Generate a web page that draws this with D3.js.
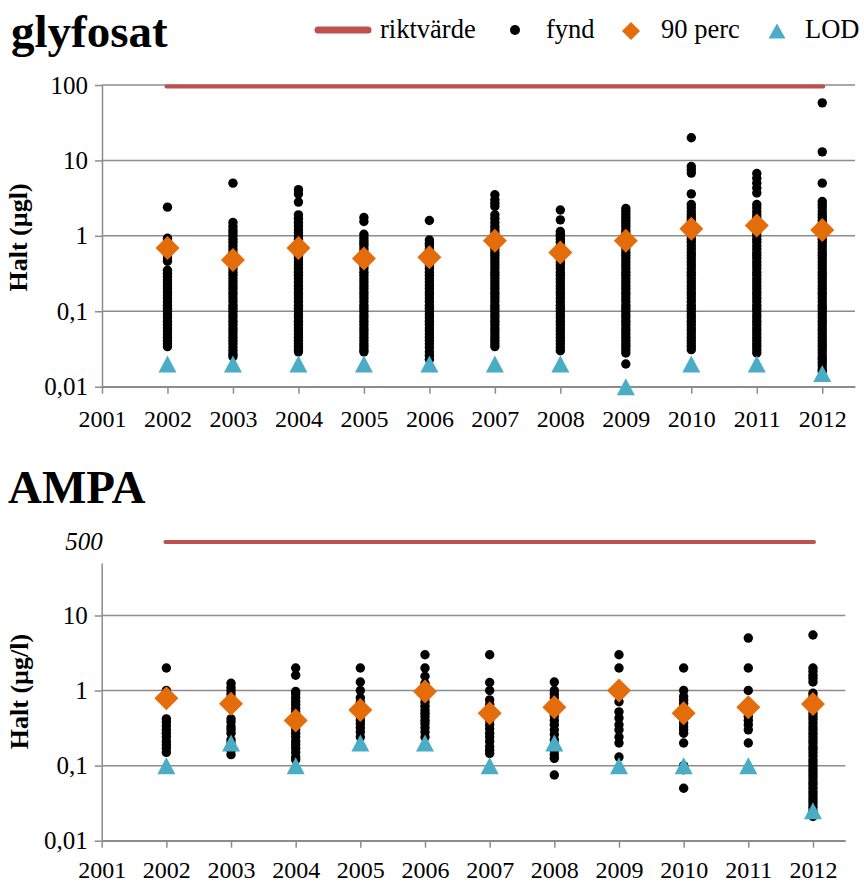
<!DOCTYPE html>
<html><head><meta charset="utf-8">
<script src="https://cdn.jsdelivr.net/npm/d3@7"></script>
<style>body{margin:0;background:#fff}</style>
</head><body><svg id="c" width="864" height="884" font-family="'Liberation Serif'"></svg>
<script>
const years = [2002,2003,2004,2005,2006,2007,2008,2009,2010,2011,2012];
const axisYears = [2001,2002,2003,2004,2005,2006,2007,2008,2009,2010,2011,2012];
const glyTicks = [0.01,0.1,1,10,100];
const ampaTicks = [0.01,0.1,1,10];
const legendLabels = ["riktvärde","fynd","90 perc","LOD"];

// glyfosat – fynd per year
const glyFynd = [
 [2.4,0.93,0.85,0.78,0.7,0.63,0.56,0.5,0.46,0.35,0.32,0.29,0.26,0.24,0.22,0.2,0.18,0.165,0.15,0.135,0.12,0.11,0.1,0.09,0.082,0.074,0.067,0.06,0.055,0.05,0.045,0.041,0.037,0.034],
 [5.0,1.5,1.33,1.2,1.1,1.0,0.9,0.82,0.74,0.67,0.6,0.55,0.5,0.45,0.41,0.37,0.33,0.3,0.27,0.245,0.22,0.2,0.18,0.165,0.15,0.135,0.12,0.11,0.1,0.09,0.082,0.074,0.067,0.06,0.055,0.05,0.045,0.041,0.037,0.033,0.03,0.027,0.025],
 [4.1,3.6,2.8,1.9,1.7,1.5,1.35,1.2,1.1,1.0,0.9,0.82,0.74,0.67,0.6,0.55,0.5,0.45,0.41,0.37,0.33,0.3,0.27,0.245,0.22,0.2,0.18,0.165,0.15,0.135,0.12,0.11,0.1,0.09,0.082,0.074,0.067,0.06,0.055,0.05,0.045,0.041,0.037,0.034,0.031,0.029],
 [1.75,1.55,1.05,0.95,0.87,0.8,0.74,0.67,0.6,0.55,0.5,0.45,0.41,0.37,0.33,0.3,0.27,0.245,0.22,0.2,0.18,0.165,0.15,0.135,0.12,0.11,0.1,0.09,0.082,0.074,0.067,0.06,0.055,0.05,0.045,0.041,0.037,0.034,0.031,0.029],
 [1.6,0.88,0.8,0.74,0.67,0.6,0.55,0.5,0.45,0.41,0.37,0.33,0.3,0.27,0.245,0.22,0.2,0.18,0.165,0.15,0.135,0.12,0.11,0.1,0.09,0.082,0.074,0.067,0.06,0.055,0.05,0.045,0.041,0.037,0.033,0.029,0.026,0.023],
 [3.5,3.0,2.7,2.45,1.9,1.7,1.5,1.33,1.2,1.1,1.0,0.9,0.82,0.74,0.67,0.6,0.55,0.5,0.45,0.41,0.37,0.33,0.3,0.27,0.245,0.22,0.2,0.18,0.165,0.15,0.135,0.12,0.11,0.1,0.09,0.082,0.074,0.067,0.06,0.055,0.05,0.045,0.041,0.037,0.034],
 [2.2,1.63,1.14,1.05,0.98,0.9,0.82,0.74,0.67,0.6,0.55,0.5,0.45,0.41,0.37,0.33,0.3,0.27,0.245,0.22,0.2,0.18,0.165,0.15,0.135,0.12,0.11,0.1,0.09,0.082,0.074,0.067,0.06,0.055,0.05,0.045,0.041,0.037,0.033,0.03],
 [2.3,2.1,1.9,1.75,1.6,1.45,1.33,1.2,1.1,1.0,0.9,0.82,0.74,0.67,0.6,0.55,0.5,0.45,0.41,0.37,0.33,0.3,0.27,0.245,0.22,0.2,0.18,0.165,0.15,0.135,0.12,0.11,0.1,0.09,0.082,0.074,0.067,0.06,0.055,0.05,0.045,0.041,0.037,0.034,0.031,0.028,0.02],
 [20,8.3,7.5,6.8,3.6,2.6,2.35,2.1,1.9,1.75,1.6,1.45,1.33,1.2,1.1,1.0,0.9,0.82,0.74,0.67,0.6,0.55,0.5,0.45,0.41,0.37,0.33,0.3,0.27,0.245,0.22,0.2,0.18,0.165,0.15,0.135,0.12,0.11,0.1,0.09,0.082,0.074,0.067,0.06,0.055,0.05,0.045,0.041,0.037,0.034,0.031],
 [6.7,5.8,5.0,4.3,3.7,2.6,2.35,2.1,1.9,1.75,1.6,1.45,1.33,1.2,1.1,1.0,0.9,0.82,0.74,0.67,0.6,0.55,0.5,0.45,0.41,0.37,0.33,0.3,0.27,0.245,0.22,0.2,0.18,0.165,0.15,0.135,0.12,0.11,0.1,0.09,0.082,0.074,0.067,0.06,0.055,0.05,0.045,0.041,0.037,0.034,0.031,0.028],
 [58,13,5.0,2.85,2.6,2.35,2.1,1.9,1.75,1.6,1.45,1.33,1.2,1.1,1.0,0.9,0.82,0.74,0.67,0.6,0.55,0.5,0.45,0.41,0.37,0.33,0.3,0.27,0.245,0.22,0.2,0.18,0.165,0.15,0.135,0.12,0.11,0.1,0.09,0.082,0.074,0.067,0.06,0.055,0.05,0.045,0.041,0.037,0.034,0.031,0.028,0.025,0.023,0.021,0.019,0.017,0.016]
];
const glyP90 = [0.69,0.48,0.69,0.50,0.52,0.86,0.60,0.86,1.24,1.37,1.2];
const glyLOD = [0.02,0.02,0.02,0.02,0.02,0.02,0.02,0.01,0.02,0.02,0.015];
const glyRikt = 100;

// AMPA – fynd per year
const ampaFynd = [
 [2.0,1.0,0.9,0.42,0.38,0.34,0.3,0.27,0.24,0.21,0.19,0.17,0.15],
 [1.25,1.1,1.0,0.9,0.8,0.42,0.38,0.33,0.3,0.27,0.22,0.2,0.18,0.16,0.14],
 [2.0,1.6,0.97,0.9,0.8,0.72,0.65,0.58,0.52,0.46,0.42,0.38,0.34,0.3,0.27,0.24,0.21,0.19,0.17,0.15,0.13,0.12],
 [2.0,1.3,1.0,0.8,0.7,0.62,0.55,0.5,0.45,0.4,0.36,0.32,0.28,0.24],
 [3.0,2.0,1.55,1.25,1.1,1.0,0.9,0.8,0.7,0.62,0.55,0.5,0.45,0.4,0.36,0.32,0.28,0.24],
 [3.0,1.28,1.0,0.75,0.65,0.57,0.5,0.44,0.4,0.35,0.31,0.27,0.24,0.21,0.18,0.16,0.145],
 [1.3,1.0,0.9,0.8,0.7,0.6,0.52,0.46,0.4,0.35,0.3,0.26,0.22,0.19,0.16,0.14,0.125,0.075],
 [3.0,2.0,1.0,0.71,0.52,0.43,0.35,0.3,0.24,0.2,0.13],
 [2.0,1.0,0.83,0.75,0.67,0.6,0.53,0.47,0.42,0.37,0.33,0.3,0.27,0.2,0.1,0.088,0.05],
 [5.0,2.0,1.0,0.6,0.52,0.45,0.4,0.35,0.3,0.2],
 [5.5,2.0,1.8,1.6,1.45,1.3,0.92,0.83,0.75,0.68,0.62,0.56,0.5,0.45,0.41,0.37,0.33,0.3,0.27,0.245,0.22,0.2,0.18,0.165,0.15,0.135,0.12,0.11,0.1,0.09,0.082,0.074,0.067,0.06,0.055,0.05,0.045,0.041,0.037,0.034,0.031,0.028,0.025,0.023,0.021]
];
const ampaP90 = [0.79,0.665,0.40,0.55,0.97,0.50,0.60,1.0,0.5,0.6,0.66];
const ampaLOD = [0.1,0.2,0.1,0.2,0.2,0.1,0.2,0.1,0.1,0.1,0.025];
const ampaRikt = 500;

const FONT = "'Liberation Serif'";
const RED = '#c0504d', ORANGE = '#e46c0a', BLUE = '#4bacc6', GRID = '#8c8c8c';
const svg = d3.select('#c');
const fmt = d => String(d).replace('.', ',');
const diamond = r => `M0,${-r}L${r},0L0,${r}L${-r},0Z`;
const tri = (w,h) => `M0,${-h/2}L${w/2},${h/2}L${-w/2},${h/2}Z`;

function panel(o) {
  const x = d3.scaleLinear().domain([2001, 2012.5]).range(o.xr);
  const y = d3.scaleLog().domain(o.yd).range(o.yr);
  const g = svg.append('g');

  g.append('text').attr('x', o.titleX).attr('y', o.titleY).attr('font-family', FONT)
    .attr('font-size', 47).attr('font-weight', 'bold').text(o.title);

  g.selectAll('line.grid').data(o.ticks).join('line').attr('class','grid')
    .attr('x1', o.xr[0]).attr('x2', o.xr[1])
    .attr('y1', d => y(d)).attr('y2', d => y(d))
    .attr('stroke', GRID).attr('stroke-width', 1.5);

  const ya = g.append('g').attr('transform', `translate(${o.xr[0]},0)`)
    .call(d3.axisLeft(y).tickValues(o.ticks).tickFormat(fmt).tickSize(7).tickSizeOuter(0).tickPadding(7));
  const xa = g.append('g').attr('transform', `translate(0,${o.yr[0]})`)
    .call(d3.axisBottom(x).tickValues(axisYears).tickFormat(d3.format('d')).tickSize(7).tickSizeOuter(0).tickPadding(o.xPad));
  [ya, xa].forEach(a => {
    a.attr('font-family', FONT).attr('font-size', 24);
    a.selectAll('path,line').attr('stroke', GRID).attr('stroke-width', 1.5);
    a.selectAll('text').attr('font-family', FONT).attr('font-size', 24).attr('fill', '#000');
  });
  ya.selectAll('text').attr('font-size', 25);

  g.append('text').attr('transform', `translate(${o.ytX},${o.ytY}) rotate(-90)`).attr('font-family', FONT)
    .attr('text-anchor', 'middle').attr('font-size', 26).attr('font-weight', 'bold').text(o.ytitle);

  // riktvärde
  const ry = o.riktY(y);
  g.append('line').attr('x1', x(years[0]) - 1).attr('x2', x(years[years.length-1]) + 1)
    .attr('y1', ry).attr('y2', ry).attr('stroke', RED).attr('stroke-width', 4).attr('stroke-linecap', 'round');
  if (o.riktLabel) {
    g.append('text').attr('x', o.xr[0] + 1).attr('y', ry + 8).attr('text-anchor', 'end').attr('font-family', FONT)
      .attr('font-size', 25).attr('font-style', 'italic').text(fmt(o.rikt));
  }

  const pts = years.flatMap((yr, i) => o.fynd[i].map(v => ({yr, v})));
  g.selectAll('circle.f').data(pts).join('circle').attr('class','f')
    .attr('cx', d => x(d.yr)).attr('cy', d => y(d.v)).attr('r', 4.7).attr('fill', '#000');
  g.selectAll('path.p90').data(years.map((yr,i)=>({yr, v:o.p90[i]}))).join('path').attr('class','p90')
    .attr('d', diamond(12)).attr('transform', d => `translate(${x(d.yr)},${y(d.v)})`).attr('fill', ORANGE);
  g.selectAll('path.lod').data(years.map((yr,i)=>({yr, v:o.lod[i]}))).join('path').attr('class','lod')
    .attr('d', tri(18,17)).attr('transform', d => `translate(${x(d.yr)},${y(d.v)})`).attr('fill', BLUE);
}

panel({title:'glyfosat', titleX:11, titleY:47, xr:[102,855], yd:[0.01,100], yr:[386.7,85], ticks:glyTicks, xPad:16,
  ytitle:'Halt (µgl)', ytX:27, ytY:237.5, fynd:glyFynd, p90:glyP90, lod:glyLOD, rikt:glyRikt,
  riktY: y => y(glyRikt) + 1.5, riktLabel:false});
panel({title:'AMPA', titleX:8, titleY:503, xr:[101.7,845.3], yd:[0.01,50], yr:[840.7,563], ticks:ampaTicks, xPad:13,
  ytitle:'Halt (µg/l)', ytX:27.5, ytY:691.5, fynd:ampaFynd, p90:ampaP90, lod:ampaLOD, rikt:ampaRikt,
  riktY: y => y.range()[1] - 21, riktLabel:true});

// legend
const lg = svg.append('g');
lg.append('line').attr('x1', 318).attr('x2', 368).attr('y1', 30).attr('y2', 30)
  .attr('stroke', RED).attr('stroke-width', 7).attr('stroke-linecap', 'round');
lg.append('circle').attr('cx', 515).attr('cy', 30).attr('r', 5).attr('fill', '#000');
lg.append('path').attr('d', diamond(9)).attr('transform', 'translate(631,31)').attr('fill', ORANGE);
lg.append('path').attr('d', tri(17,15)).attr('transform', 'translate(777,31)').attr('fill', BLUE);
const lx = [380, 546, 661, 805];
lg.selectAll('text').data(legendLabels).join('text').attr('font-family', FONT)
  .attr('x', (d,i) => lx[i]).attr('y', 38).attr('font-size', 26.5).text(d => d);
</script>
</body></html>
